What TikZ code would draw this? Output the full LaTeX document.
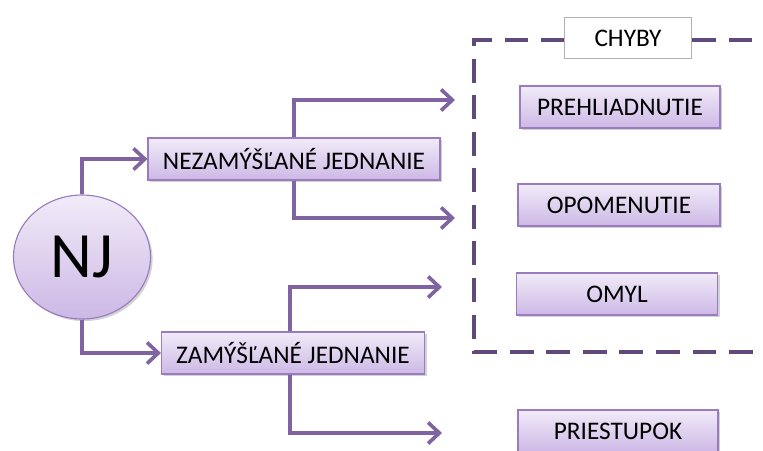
\documentclass[tikz,border=0pt]{standalone}
\usepackage{fontspec}
\setmainfont{Carlito}
\usepackage{xcolor}
\usepackage{tikz}
\usetikzlibrary{shapes,arrows.meta,positioning,calc,shadows}

\definecolor{boxtop}{HTML}{F1EBF8}
\definecolor{boxbot}{HTML}{CDB8E6}
\definecolor{boxline}{HTML}{9A7BBE}
\definecolor{arrowcol}{HTML}{8064A2}
\definecolor{frameline}{HTML}{604A7B}

\begin{document}
\begin{tikzpicture}[x=0.025cm,y=-0.025cm,
  lilabox/.style={draw=boxline,line width=0.8pt,top color=boxtop,bottom color=boxbot,
    minimum height=42*0.025cm,inner sep=0pt,font=\fontsize{18}{20}\selectfont,
    drop shadow={opacity=0.35,shadow xshift=1.5pt,shadow yshift=-1.5pt}},
  flow/.style={draw=arrowcol,line width=2.8pt,-{Straight Barb[length=8pt,width=15pt,line width=2.6pt]}}]
\useasboundingbox (0,0) rectangle (763,450);
% Root ellipse
\node[ellipse,draw=boxline,line width=0.8pt,top color=boxtop,bottom color=boxbot,
  minimum width=137*0.025cm,minimum height=124*0.025cm,inner sep=0pt,
  font=\fontsize{46}{48}\selectfont,
  drop shadow={opacity=0.35,shadow xshift=1.5pt,shadow yshift=-1.5pt}] (nj) at (82,257) {NJ};
% Two kinds of acting
\node[lilabox,minimum width=292*0.025cm] (nezam) at (294,159) {NEZAMÝŠĽANÉ JEDNANIE};
\node[lilabox,minimum width=263*0.025cm] (zam) at (293,353) {ZAMÝŠĽANÉ JEDNANIE};
% Results
\node[lilabox,minimum width=200*0.025cm] (prehl) at (620,107) {PREHLIADNUTIE};
\node[lilabox,minimum width=202*0.025cm] (opom) at (619,205) {OPOMENUTIE};
\node[lilabox,minimum width=201*0.025cm] (omyl) at (617,294) {OMYL};
\node[lilabox,minimum width=200*0.025cm] (priest) at (618,431) {PRIESTUPOK};
% Dashed frame of errors
\draw[frameline,line width=2.8pt,dash pattern=on 17pt off 9pt]
  (565,40) -- (474,40) -- (474,352) -- (763,352);
\draw[frameline,line width=2.8pt,dash pattern=on 17pt off 9pt]
  (692,40) -- (763,40);
\node[draw=gray!60,fill=white,minimum width=127*0.025cm,minimum height=41*0.025cm,
  inner sep=0pt,font=\fontsize{18}{20}\selectfont] (chyby) at (628,38) {CHYBY};
% Arrow ends
\coordinate (e1) at (455,100);
\coordinate (e2) at (455,218);
\coordinate (e3) at (442,287);
\coordinate (e4) at (442,433);
% Connectors
\draw[flow] (nj.north) |- (nezam.west);
\draw[flow] (nj.south) |- (zam.west);
\draw[flow] (nezam.north) |- (e1);
\draw[flow] (nezam.south) |- (e2);
\draw[flow] ([xshift=-3*0.025cm]zam.north) |- (e3);
\draw[flow] ([xshift=-3*0.025cm]zam.south) |- (e4);
\end{tikzpicture}
\end{document}
